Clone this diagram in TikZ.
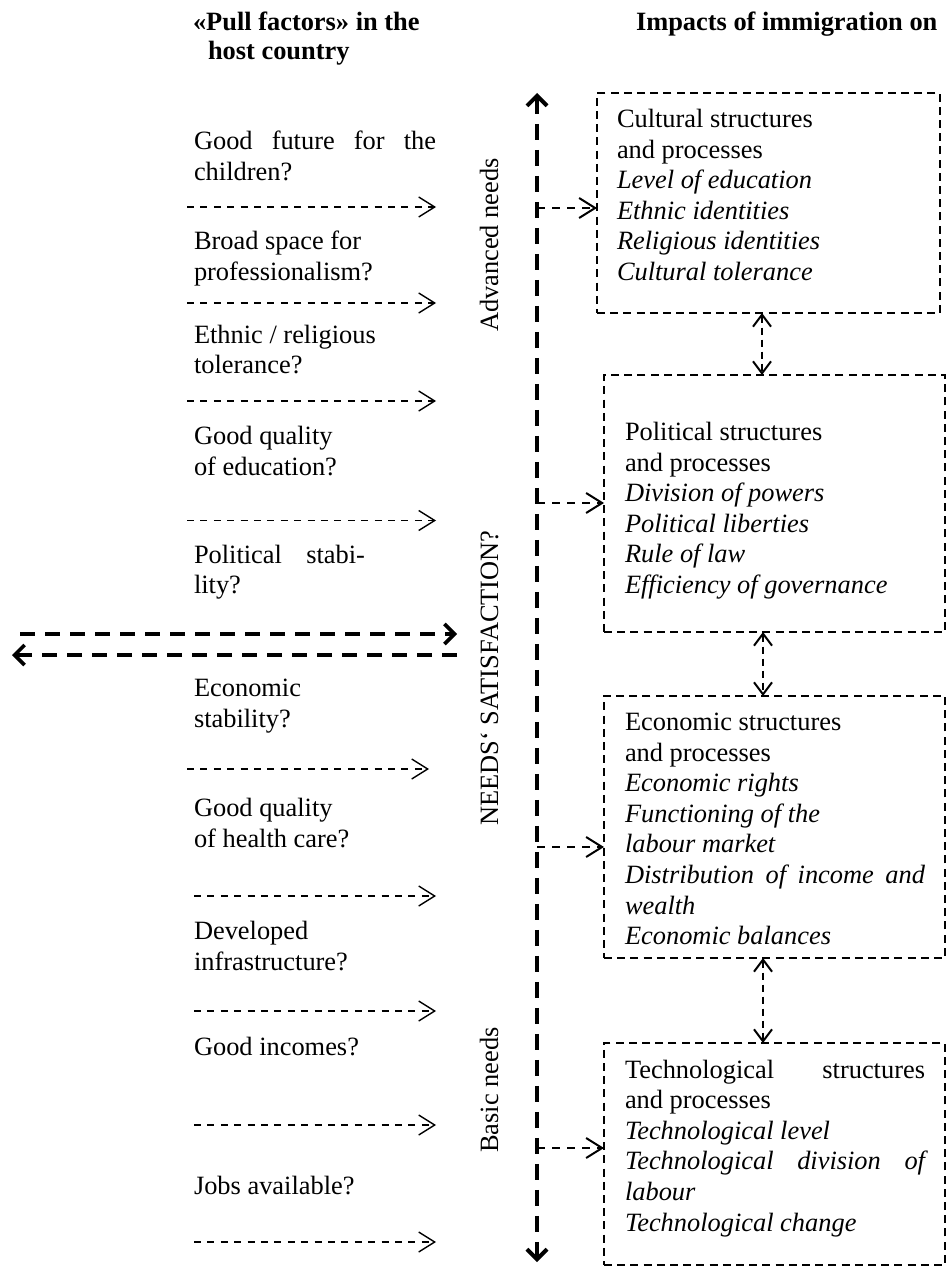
\documentclass[tikz,border=0pt]{standalone}
\usepackage{fontspec}
\setmainfont{Liberation Serif}
\usetikzlibrary{arrows.meta,calc}
\begin{document}
\begin{tikzpicture}[x=0.5pt,y=-0.5pt,
  txt/.style={inner sep=0pt,outer sep=0pt,font=\fontsize{13.2pt}{15.3pt}\selectfont,align=left},
  hdr/.style={inner sep=0pt,outer sep=0pt,font=\fontsize{13.2pt}{15.3pt}\selectfont\bfseries},
  vlab/.style={inner sep=0pt,outer sep=0pt,rotate=90,anchor=base,font=\fontsize{13.2pt}{15.3pt}\selectfont},
  factor/.style={line width=0.7pt,dash pattern=on 3.5pt off 3.2pt,-{Straight Barb[length=8pt,width=10pt]}},
  bigarrow/.style={line width=1.8pt,dash pattern=on 7.5pt off 5pt,-{Straight Barb[length=5pt,width=10pt]}},
  mainarrow/.style={line width=2pt,dash pattern=on 8pt off 5pt,{Straight Barb[length=5pt,width=10pt]}-{Straight Barb[length=5pt,width=10pt]}},
  branch/.style={line width=1pt,dash pattern=on 4pt off 3.5pt,-{Straight Barb[length=8pt,width=10pt]}},
  link/.style={line width=1pt,dash pattern=on 3.5pt off 2.5pt,{Straight Barb[length=6pt,width=9pt]}-{Straight Barb[length=6pt,width=9pt]}},
  boxline/.style={draw,rectangle,line width=1pt,dash pattern=on 4pt off 2.6pt,inner sep=0pt,outer sep=0pt,anchor=north west}
]
\fill[white] (0,0) rectangle (946,1267);
\useasboundingbox (0,0) rectangle (946,1267);

% headers
\node[hdr,anchor=base west] (h1) at (193,31) {«Pull factors» in the};
\node[hdr,anchor=base west] (h2) at (208,60) {host country};
\node[hdr,anchor=base west] (h3) at (636,31) {Impacts of immigration on};

% left factors (anchor = baseline of the last line)
\node[txt,anchor=base west] (f1) at (194,180.1) {\makebox[121pt][s]{Good future for the}\\children?};
\node[txt,anchor=base west] (f2) at (194,280.6) {Broad space for\\professionalism?};
\node[txt,anchor=base west] (f3) at (194,373.6) {Ethnic / religious\\tolerance?};
\node[txt,anchor=base west] (f4) at (194,475.1) {Good quality\\of education?};
\node[txt,anchor=base west] (f5) at (194,593.6) {\makebox[85.5pt][s]{Political stabi-}\\lity?};
\node[txt,anchor=base west] (f6) at (194,727.1) {Economic\\stability?};
\node[txt,anchor=base west] (f7) at (194,847.1) {Good quality\\of health care?};
\node[txt,anchor=base west] (f8) at (194,970.1) {Developed\\infrastructure?};
\node[txt,anchor=base west] (f9) at (194,1055.5) {Good incomes?};
\node[txt,anchor=base west] (f10) at (194,1194.5) {Jobs available?};

% factor arrows
\coordinate (a1s) at (187,207);  \coordinate (a1e) at (436,207);
\coordinate (a2s) at (187,303);  \coordinate (a2e) at (436,303);
\coordinate (a3s) at (187,401);  \coordinate (a3e) at (436,401);
\coordinate (a4s) at (187,520.5);\coordinate (a4e) at (436,520.5);
\coordinate (a6s) at (187,769);  \coordinate (a6e) at (429,769);
\coordinate (a7s) at (194,896);  \coordinate (a7e) at (436,896);
\coordinate (a8s) at (194,1011); \coordinate (a8e) at (436,1011);
\coordinate (a9s) at (194,1125); \coordinate (a9e) at (436,1125);
\coordinate (a10s) at (194,1242);\coordinate (a10e) at (436,1242);
\foreach \i in {1,2,3,4,6,7,8,9,10} {\draw[factor] (a\i s) -- (a\i e);}

% big double arrows
\coordinate (ba1s) at (20,634);  \coordinate (ba1e) at (457,634);
\coordinate (ba2s) at (457,655); \coordinate (ba2e) at (12,655);
\draw[bigarrow] (ba1s) -- (ba1e);
\draw[bigarrow] (ba2s) -- (ba2e);

% vertical labels
\node[vlab] (l1) at (498,245) {Advanced needs};
\node[vlab] (l2) at (498,678) {NEEDS‘ SATISFACTION?};
\node[vlab] (l3) at (498,1090) {Basic needs};

% main vertical arrow
\coordinate (vtop) at (537,93);
\coordinate (vbot) at (537,1262);
\draw[mainarrow] (vtop) -- (vbot);

% boxes
\node[boxline,minimum width=171.5pt,minimum height=110pt] (cult) at (597,93) {};
\node[boxline,minimum width=170.5pt,minimum height=128.5pt] (pol) at (604,375) {};
\node[boxline,minimum width=170.5pt,minimum height=131pt] (eco) at (604,696) {};
\node[boxline,minimum width=170.5pt,minimum height=111pt] (tec) at (604,1043) {};

% box texts (anchor = baseline of the last line)
\node[txt,anchor=base west] (tcult) at (617,280.5) {Cultural structures\\and processes\\\textit{Level of education}\\\textit{Ethnic identities}\\\textit{Religious identities}\\\textit{Cultural tolerance}};
\node[txt,anchor=base west] (tpol) at (625,593.5) {Political structures\\and processes\\\textit{Division of powers}\\\textit{Political liberties}\\\textit{Rule of law}\\\textit{Efficiency of governance}};
\node[txt,anchor=base west] (teco) at (625,944.7) {Economic structures\\and processes\\\textit{Economic rights}\\\textit{Functioning of the}\\\textit{labour market}\\\textit{\makebox[150pt][s]{Distribution of income and}}\\\textit{wealth}\\\textit{Economic balances}};
\node[txt,anchor=base west] (ttec) at (625,1231) {\makebox[150pt][s]{Technological structures}\\and processes\\\textit{Technological level}\\\textit{\makebox[150pt][s]{Technological division of}}\\\textit{labour}\\\textit{Technological change}};

% branches
\coordinate (b1) at (537,208);
\coordinate (b2) at (537,503);
\coordinate (b3) at (537,847);
\coordinate (b4) at (537,1148);
\draw[branch] (b1) -- (b1 -| cult.west);
\draw[branch] (b2) -- (b2 -| pol.west);
\draw[branch] (b3) -- (b3 -| eco.west);
\draw[branch] (b4) -- (b4 -| tec.west);

% links between boxes
\coordinate (lx1) at (762,0);
\coordinate (lx2) at (763,0);
\draw[link] (cult.south -| lx1) -- (pol.north -| lx1);
\draw[link] (pol.south -| lx2) -- (eco.north -| lx2);
\draw[link] (eco.south -| lx2) -- (tec.north -| lx2);
\end{tikzpicture}
\end{document}
